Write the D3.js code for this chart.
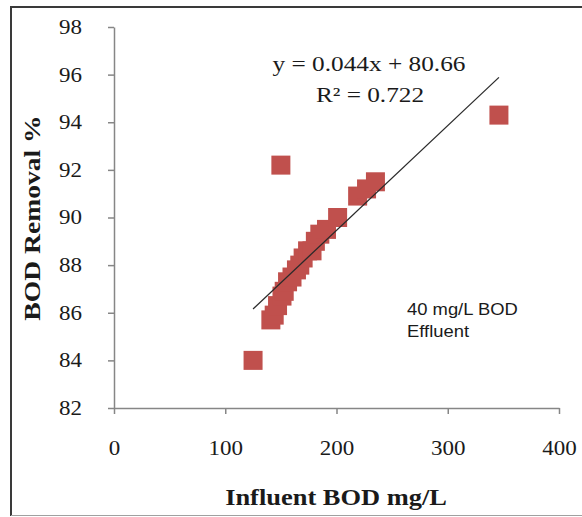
<!DOCTYPE html>
<html>
<head>
<meta charset="utf-8">
<script src="https://cdn.jsdelivr.net/npm/d3@7"></script>
<style>
body { margin: 0; background: #fff; }
svg { display: block; }
</style>
</head>
<body>
<svg width="582" height="517"></svg>
<script>
// data
const influent = [125, 141, 144, 147, 151, 153, 156, 160, 164, 167, 170, 174, 178, 181, 185, 191, 201, 219, 227, 235, 150, 346]
const removal = [84.0, 85.7, 85.9, 86.3, 86.7, 86.9, 87.3, 87.5, 87.8, 88.0, 88.3, 88.6, 88.6, 89.0, 89.3, 89.5, 90.0, 90.9, 91.2, 91.5, 92.2, 94.3]
const xTicks = [0, 100, 200, 300, 400]
const yTicks = [82, 84, 86, 88, 90, 92, 94, 96, 98]
const slope = 0.044
const intercept = 80.66
const eqLabel = 'y = 0.044x + 80.66'
const r2Label = 'R² = 0.722'
const noteLines = ['40 mg/L BOD', 'Effluent']
const xTitle = 'Influent BOD mg/L'
const yTitle = 'BOD Removal %'

const SX = 1.15   // the reference looks stretched sideways
const serif = '"Liberation Serif", "Times New Roman", serif'

let svg = d3.select('svg')

let data = influent.map((x, i) => ({ x: x, y: removal[i] }))

let scX = d3.scaleLinear().domain([0, 400]).range([114, 559])
let scY = d3.scaleLinear().domain([82, 98]).range([408, 27])

// frame
svg.append('line').attr('x1', 11).attr('y1', 7).attr('x2', 11).attr('y2', 516)
	.attr('stroke', '#3a3a3a').attr('stroke-width', 2)
svg.append('line').attr('x1', 10).attr('y1', 7).attr('x2', 582).attr('y2', 7)
	.attr('stroke', '#3a3a3a').attr('stroke-width', 2)
svg.append('line').attr('x1', 11).attr('y1', 515.5).attr('x2', 582).attr('y2', 515.5)
	.attr('stroke', '#a0a0a0').attr('stroke-width', 1.2)

// axes
let gx = svg.append('g')
	.attr('transform', `translate(0,${scY(82)})`)
	.call(d3.axisBottom(scX).tickValues(xTicks).tickSize(6).tickSizeOuter(0).tickPadding(27))
let gy = svg.append('g')
	.attr('transform', `translate(${scX(0)},0)`)
	.call(d3.axisLeft(scY).tickValues(yTicks).tickSize(6).tickSizeOuter(0).tickPadding(26))

;[gx, gy].forEach(g => {
	g.selectAll('path, line').attr('stroke', '#868686').attr('stroke-width', 1.5)
	g.selectAll('text')
	.attr('fill', '#1a1a1a')
	.style('font-family', serif)
	.style('font-size', '20px')
	.attr('transform', `scale(${SX},1)`)
})
gy.selectAll('text').attr('x', -32 / SX)

// points
let sz = 19
svg.append('g')
	.selectAll('rect')
	.data(data).enter()
	.append('rect')
	.attr('x', d => scX(d.x) - sz / 2)
	.attr('y', d => scY(d.y) - sz / 2)
	.attr('width', sz).attr('height', sz)
	.attr('fill', '#c0504d')

// trend line, over the points like in the reference
let xs = d3.extent(influent)
svg.append('line')
	.attr('x1', scX(xs[0])).attr('y1', scY(slope * xs[0] + intercept))
	.attr('x2', scX(xs[1])).attr('y2', scY(slope * xs[1] + intercept))
	.attr('stroke', '#2a2a2a').attr('stroke-width', 1.3)

function stretchedText(x, y, txt, size, weight, family, anchor) {
	return svg.append('text')
	.attr('transform', `translate(${x},${y}) scale(${SX},1)`)
	.attr('text-anchor', anchor || 'middle')
	.attr('fill', '#1a1a1a')
	.style('font-family', family)
	.style('font-size', size + 'px')
	.style('font-weight', weight)
	.text(txt)
}

// equation
stretchedText(369, 71, eqLabel, 22, 'normal', serif)
stretchedText(370, 102, r2Label, 22, 'normal', serif)

// note
noteLines.forEach((t, i) => {
	stretchedText(407, 315 + i * 22, t, 16, 'normal', '"Liberation Sans", Arial, sans-serif', 'start')
})

// axis titles
stretchedText(336, 505, xTitle, 23, 'bold', serif)
svg.append('text')
	.attr('transform', `translate(40,218) rotate(-90) scale(${SX},1)`)
	.attr('text-anchor', 'middle')
	.attr('fill', '#1a1a1a')
	.style('font-family', serif)
	.style('font-size', '24px')
	.style('font-weight', 'bold')
	.text(yTitle)
</script>
</body>
</html>
